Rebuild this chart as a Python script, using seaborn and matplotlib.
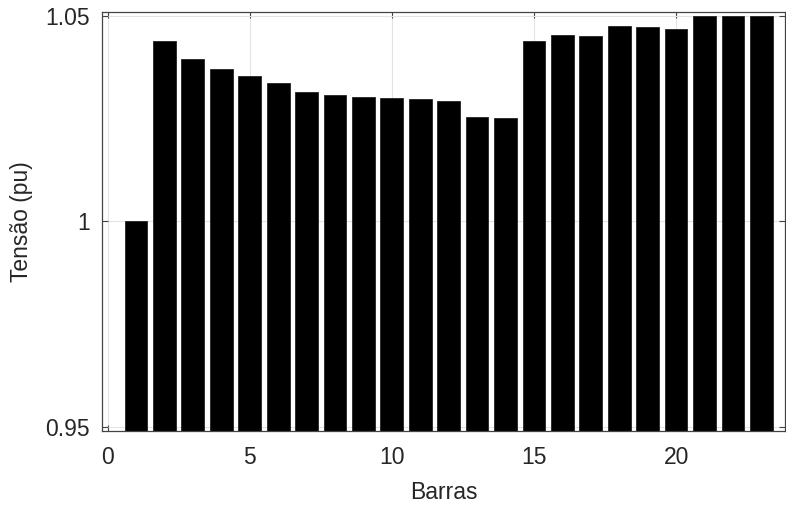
import matplotlib
matplotlib.use("Agg")
import matplotlib.pyplot as plt
import seaborn as sns
import numpy as np
from matplotlib.ticker import FuncFormatter

bars = list(range(1, 24))
tensao = [1.0000, 1.0438, 1.0395, 1.0370, 1.0353, 1.0336, 1.0315, 1.0306,
          1.0302, 1.0300, 1.0296, 1.0293, 1.0254, 1.0252, 1.0437, 1.0452,
          1.0451, 1.0475, 1.0472, 1.0467, 1.0499, 1.0498, 1.0500]
xticks = [0, 5, 10, 15, 20]
yticks = [0.95, 1.0, 1.05]

sns.set_theme(style="white")
plt.rcParams['font.family'] = ['Liberation Sans', 'DejaVu Sans']

fig = plt.figure(figsize=(7.86, 5.09), dpi=100)
ax = fig.add_axes([0.130, 0.153, 0.8687, 0.823])

ax.grid(True, color="#e3e3e3", linewidth=0.8, zorder=0)
ax.set_axisbelow(True)

sns.barplot(x=bars, y=tensao, native_scale=True, width=0.8, color="black",
            edgecolor="#222222", linewidth=0.6, saturation=1, ax=ax, zorder=2)

ax.set_xlim(-0.19, 23.83)
ax.set_ylim(0.949, 1.0508)
ax.set_xticks(xticks)
ax.set_yticks(yticks)
ax.yaxis.set_major_formatter(FuncFormatter(lambda v, p: f"{v:g}"))

ax.tick_params(direction="in", length=4, width=0.8, color="#444444",
               top=True, right=True, labelsize=16.5, labelcolor="#262626",
               bottom=True, left=True)
ax.tick_params(axis="x", pad=11)
ax.tick_params(axis="y", pad=9)
for s in ax.spines.values():
    s.set_color("#444444")
    s.set_linewidth(0.9)
    s.set_visible(True)

ax.set_xlabel("Barras", fontsize=16.5, color="#262626", labelpad=8)
ax.set_ylabel("Tensão (pu)", fontsize=16.5, color="#262626", labelpad=9)

fig.savefig("out.png", dpi=100)
